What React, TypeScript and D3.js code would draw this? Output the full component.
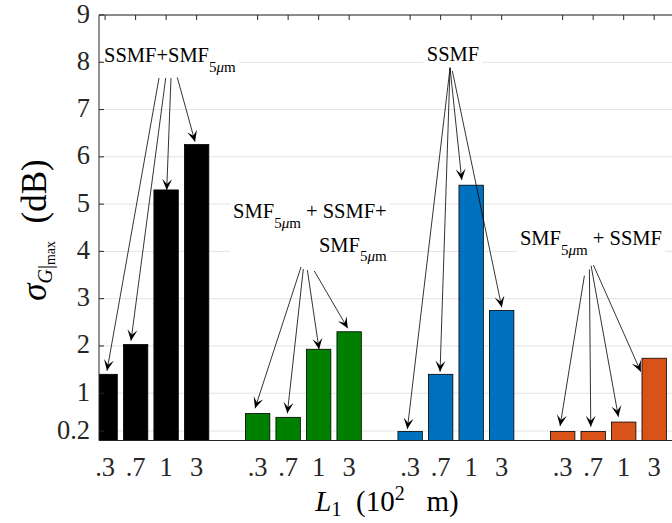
import React, { useEffect, useRef } from "react";
import * as d3 from "d3";

// ---- data ----
const tickLabels = [".3", ".7", "1", "3"];
const groupPositions = [
  [1, 2, 3, 4],
  [6, 7, 8, 9],
  [11, 12, 13, 14],
  [16, 17, 18, 19],
];
const blackVals = [1.4, 2.03, 5.3, 6.26];
const greenVals = [0.57, 0.49, 1.93, 2.3];
const blueVals = [0.19, 1.4, 5.4, 2.75];
const orangeVals = [0.19, 0.19, 0.39, 1.74];
const seriesColors = ["#000000", "#008000", "#0072BD", "#D95319"];
const yTicks = [0.2, 1, 2, 3, 4, 5, 6, 7, 8, 9];

// annotation arrows in data units: [fromX, fromY, toX, toY]
const arrows1 = [
  [2.767, 7.667, 1.062, 1.476],
  [2.987, 7.667, 1.849, 2.11],
  [3.16, 7.667, 3.02, 5.3],
  [3.367, 7.68, 3.948, 6.32],
];
const arrows2 = [
  [7.423, 3.67, 5.915, 0.681],
  [7.498, 3.627, 6.974, 0.575],
  [7.63, 3.606, 8.013, 1.929],
  [7.859, 3.585, 8.954, 2.373],
];
const arrows3 = [
  [12.308, 7.885, 10.908, 0.243],
  [12.308, 7.885, 11.98, 1.455],
  [12.308, 7.885, 12.692, 5.51],
  [12.384, 7.815, 14.003, 2.817],
];
const arrows4 = [
  [16.712, 3.486, 15.915, 0.307],
  [16.876, 3.621, 16.921, 0.292],
  [16.931, 3.697, 17.826, 0.503],
  [17.007, 3.712, 18.561, 1.455],
];

type Seg = { t: string; sub?: boolean; it?: boolean };
const SUB: Seg[] = [
  { t: "5", sub: true },
  { t: "μ", sub: true, it: true },
  { t: "m", sub: true },
];
const annoTexts: { x: number; lines: { y: number; segs: Seg[] }[]; anchor: string }[] = [
  { x: 0.964, anchor: "start", lines: [{ y: 8.0, segs: [{ t: "SSMF+SMF" }, ...SUB] }] },
  {
    x: 10.23,
    anchor: "end",
    lines: [
      { y: 4.7, segs: [{ t: "SMF" }, ...SUB, { t: "\u00a0+ SSMF+" }] },
      { y: 3.99, segs: [{ t: "SMF" }, ...SUB] },
    ],
  },
  { x: 11.544, anchor: "start", lines: [{ y: 8.03, segs: [{ t: "SSMF" }] }] },
  { x: 14.6, anchor: "start", lines: [{ y: 4.135, segs: [{ t: "SMF" }, ...SUB, { t: "\u00a0+ SSMF" }] }] },
];

const W = 672;
const H = 523;
const M = { left: 99, right: 672.5, top: 15, bottom: 440.5 };
const SERIF = "'Liberation Serif', 'Times New Roman', serif";

export default function App() {
  const ref = useRef<SVGSVGElement>(null);

  useEffect(() => {
    const svg = d3.select(ref.current);
    svg.selectAll("*").remove();

    const x = d3.scaleLinear().domain([0.8, 19.6]).range([M.left, M.right]);
    const y = d3.scaleLinear().domain([0, 9]).range([M.bottom, M.top]);
    const bw = x(1.8) - x(1);

    svg.append("rect").attr("width", W).attr("height", H).attr("fill", "#fff");

    const defs = svg.append("defs");
    defs
      .append("clipPath")
      .attr("id", "plotclip")
      .append("rect")
      .attr("x", M.left)
      .attr("y", M.top)
      .attr("width", M.right - M.left)
      .attr("height", M.bottom - M.top);

    // grid
    svg
      .append("g")
      .selectAll("line")
      .data(yTicks)
      .join("line")
      .attr("x1", M.left)
      .attr("x2", M.right)
      .attr("y1", (d) => y(d))
      .attr("y2", (d) => y(d))
      .attr("stroke", "#e3e3e3")
      .attr("stroke-width", 1);

    // bars
    const allVals = [blackVals, greenVals, blueVals, orangeVals];
    const barG = svg.append("g").attr("clip-path", "url(#plotclip)");
    allVals.forEach((vals, gi) => {
      barG
        .append("g")
        .selectAll("rect")
        .data(vals)
        .join("rect")
        .attr("x", (_, i) => x(groupPositions[gi][i]) - bw / 2)
        .attr("width", bw)
        .attr("y", (d) => y(d))
        .attr("height", (d) => y(0) - y(d))
        .attr("fill", seriesColors[gi])
        .attr("stroke", "#000")
        .attr("stroke-width", 0.8);
    });

    // annotation text with white boxes
    const annG = svg.append("g");
    annoTexts.forEach((a) => {
      const g = annG.append("g");
      const rect = g.append("rect").attr("fill", "#fff");
      a.lines.forEach((ln) => {
        const t = g
          .append("text")
          .attr("x", x(a.x))
          .attr("y", y(ln.y))
          .attr("text-anchor", a.anchor)
          .attr("font-family", SERIF)
          .attr("font-size", 20.5)
          .attr("fill", "#000");
        let inSub = false;
        ln.segs.forEach((s) => {
          const sp = t.append("tspan").text(s.t);
          if (s.sub && !inSub) sp.attr("dy", 9.5);
          if (!s.sub && inSub) sp.attr("dy", -9.5);
          if (s.sub) sp.attr("font-size", 15);
          if (s.it) sp.attr("font-style", "italic");
          inSub = !!s.sub;
        });
      });
      const bb = (g.node() as SVGGElement).getBBox();
      rect
        .attr("x", bb.x - 3)
        .attr("y", bb.y - 1)
        .attr("width", bb.width + 6)
        .attr("height", bb.height + 2);
    });

    // axes
    const axG = svg.append("g").attr("stroke", "#262626").attr("stroke-width", 1).attr("fill", "none");
    axG.append("line").attr("x1", M.left).attr("x2", M.right).attr("y1", M.top).attr("y2", M.top);
    axG.append("line").attr("x1", M.left).attr("x2", M.right).attr("y1", M.bottom).attr("y2", M.bottom);
    axG.append("line").attr("x1", M.left).attr("x2", M.left).attr("y1", M.top).attr("y2", M.bottom);

    const allPos = groupPositions.flat();
    axG
      .selectAll("line.tt")
      .data(allPos)
      .join("line")
      .attr("class", "tt")
      .attr("x1", (d) => x(d))
      .attr("x2", (d) => x(d))
      .attr("y1", M.top)
      .attr("y2", M.top + 5);
    axG
      .selectAll("line.yt")
      .data(yTicks)
      .join("line")
      .attr("class", "yt")
      .attr("x1", M.left)
      .attr("x2", M.left + 5)
      .attr("y1", (d) => y(d))
      .attr("y2", (d) => y(d));

    // y tick labels
    svg
      .append("g")
      .selectAll("text")
      .data(yTicks)
      .join("text")
      .attr("x", 90)
      .attr("y", (d) => y(d) + 7.5)
      .attr("text-anchor", "end")
      .attr("font-family", SERIF)
      .attr("font-size", 26.5)
      .attr("fill", "#262626")
      .text((d) => (d === 0.2 ? "0.2" : String(d)));

    // x tick labels
    groupPositions.forEach((gp) => {
      svg
        .append("g")
        .selectAll("text")
        .data(gp)
        .join("text")
        .attr("x", (d) => x(d))
        .attr("y", 476)
        .attr("text-anchor", "middle")
        .attr("font-family", SERIF)
        .attr("font-size", 26.5)
        .attr("fill", "#262626")
        .text((_, i) => tickLabels[i]);
    });

    // x label
    const xl = svg
      .append("text")
      .attr("x", 387)
      .attr("y", 511)
      .attr("text-anchor", "middle")
      .attr("font-family", SERIF)
      .attr("font-size", 29)
      .attr("fill", "#000");
    xl.append("tspan").attr("font-style", "italic").text("L");
    xl.append("tspan").attr("font-size", 20).attr("dy", 5).text("1");
    xl.append("tspan").attr("dy", -5).text("\u00a0\u00a0(10");
    xl.append("tspan").attr("font-size", 20).attr("dy", -11).text("2");
    xl.append("tspan").attr("dy", 11).text("\u00a0\u00a0\u00a0m)");

    // y label
    const yl = svg
      .append("text")
      .attr("transform", `translate(46, 230) rotate(-90)`)
      .attr("text-anchor", "middle")
      .attr("font-family", SERIF)
      .attr("font-size", 35)
      .attr("fill", "#000");
    yl.append("tspan").attr("font-style", "italic").text("σ");
    yl.append("tspan").attr("font-style", "italic").attr("font-size", 20).attr("dy", 6).text("G");
    yl.append("tspan").attr("font-size", 20).text("|");
    yl.append("tspan").attr("font-size", 14).attr("dy", 3).text("max");
    yl.append("tspan").attr("dy", -9).text("\u00a0\u00a0(dB)");

    // arrows
    const arG = svg.append("g");
    const drawArrow = (a: number[]) => {
      const x1 = x(a[0]),
        y1 = y(a[1]),
        x2 = x(a[2]),
        y2 = y(a[3]);
      arG
        .append("line")
        .attr("x1", x1)
        .attr("y1", y1)
        .attr("x2", x2)
        .attr("y2", y2)
        .attr("stroke", "#000")
        .attr("stroke-width", 0.8);
      const ang = (Math.atan2(y2 - y1, x2 - x1) * 180) / Math.PI;
      const L = 11,
        w = 5;
      arG
        .append("path")
        .attr("d", `M0,0 L${-L},${-w} L${-L * 0.55},0 L${-L},${w} Z`)
        .attr("transform", `translate(${x2},${y2}) rotate(${ang})`)
        .attr("fill", "#000");
    };
    [arrows1, arrows2, arrows3, arrows4].forEach((arr) => arr.forEach(drawArrow));
  }, []);

  return (
    <div style={{ position: "absolute", left: 0, top: 0, width: W, height: H }}>
      <svg ref={ref} width={W} height={H} style={{ display: "block" }} />
    </div>
  );
}
